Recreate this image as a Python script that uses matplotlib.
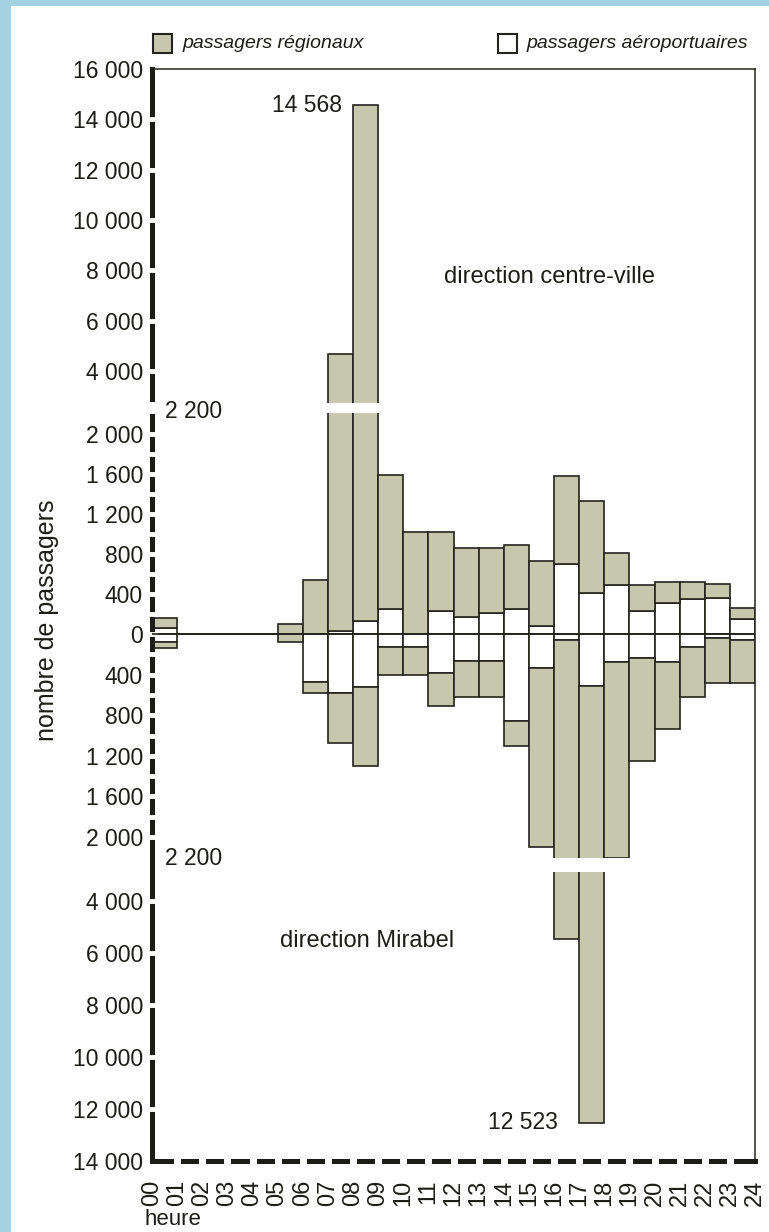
import numpy as np
import matplotlib
matplotlib.use("Agg")
import matplotlib.pyplot as plt
from matplotlib.patches import Rectangle
from matplotlib.ticker import FixedLocator, FuncFormatter, NullFormatter

plt.rcParams['font.family'] = ['Liberation Sans', 'DejaVu Sans']

# heures 00..23 (une barre par heure, de h à h+1)
hours = np.arange(24)
hour_labels = [f"{h:02d}" for h in range(25)]

# direction centre-ville (au-dessus de zéro)
ville_aero = [65, 0, 0, 0, 0, 0, 0, 35, 130, 255, 0, 230, 175, 215, 255, 80,
              705, 415, 490, 230, 315, 355, 365, 155]
ville_regio = [95, 0, 0, 0, 0, 105, 540, 4640, 14438, 1335, 1025, 795, 685, 645,
               635, 650, 875, 915, 325, 260, 205, 165, 135, 110]

# direction Mirabel (sous zéro)
mirabel_aero = [76, 0, 0, 0, 0, 0, 473, 584, 519, 125, 125, 381, 266, 266, 857,
                332, 59, 512, 273, 233, 273, 131, 36, 59]
mirabel_regio = [66, 0, 0, 0, 0, 80, 111, 493, 778, 282, 282, 328, 358, 358, 243,
                 1763, 5391, 12011, 1937, 1018, 666, 487, 444, 421]

max_ville = 14568
max_mirabel = 12523
coupure = 2200

yticks_major = [-14000, -12000, -10000, -8000, -6000, -4000, -2000, -1600, -1200,
                -800, -400, 0, 400, 800, 1200, 1600, 2000, 4000, 6000, 8000,
                10000, 12000, 14000, 16000]
yticks_minor = [-1800, -1400, -1000, -600, -200, 200, 600, 1000, 1400, 1800]

# échelle brisée : linéaire fine jusqu'à 2 200, comprimée au-delà
knots_v = [-30000, -14000, -4000, -2200, 0, 2200, 4000, 16000, 40000]
knots_d = [-943, -527, -267, -223.3, 0, 220, 263, 565, 1169]


def fwd(v):
    return np.interp(v, knots_v, knots_d)


def inv(d):
    return np.interp(d, knots_d, knots_v)


gris = '#c6c8ae'
trait = '#24241e'
encre = '#1c1c18'

fig = plt.figure(figsize=(7.69, 12.32), dpi=100, facecolor='#a3d3e3')
fig.add_artist(Rectangle((11 / 769, 0), 1, 1 - 6 / 1232, transform=fig.transFigure,
                         facecolor='white', edgecolor='none', zorder=-5))

ax = fig.add_axes([152 / 769, 1 - 1161 / 1232, 603 / 769, 1092 / 1232])
ax.set_yscale('function', functions=(fwd, inv))

kw = dict(width=1, align='edge', edgecolor=trait, linewidth=1.2)
va = np.array(ville_aero)
vr = np.array(ville_regio)
ma = np.array(mirabel_aero)
mr = np.array(mirabel_regio)
ax.bar(hours, va, color='white', **kw)
ax.bar(hours, vr, bottom=va, color=gris, **kw)
ax.bar(hours, -ma, color='white', **kw)
ax.bar(hours, -mr, bottom=-ma, color=gris, **kw)

ax.axhline(0, color=trait, lw=1.2, zorder=3)

# coupures de l'échelle
ax.axhspan(2245, 2680, xmin=0, xmax=0.995, color='white', lw=0, zorder=2.2)
ax.axhspan(-2790, -2245, xmin=0.006, xmax=0.995, color='white', lw=0, zorder=2.2)

ax.set_xlim(0, 24)
ax.set_ylim(-14000, 16000)

ax.xaxis.set_major_locator(FixedLocator(range(25)))
ax.set_xticklabels(hour_labels, rotation=90, fontsize=17, color=encre)
ax.yaxis.set_major_locator(FixedLocator(yticks_major))
ax.yaxis.set_minor_locator(FixedLocator(yticks_minor))
ax.yaxis.set_minor_formatter(NullFormatter())
ax.yaxis.set_major_formatter(FuncFormatter(lambda v, p: f"{abs(int(round(v))):,}".replace(",", " ")))
ax.tick_params(axis='y', labelsize=16.5, labelcolor=encre)

# les graduations sont des coupures blanches dans l'axe épais
ax.tick_params(axis='both', which='both', color='white', direction='inout')
ax.tick_params(axis='y', which='both', length=9, width=3.5, pad=2)
ax.tick_params(axis='x', length=9, width=5, pad=9)

for s in ['top', 'right']:
    ax.spines[s].set_linewidth(1.1)
    ax.spines[s].set_color(trait)
for s in ['left', 'bottom']:
    ax.spines[s].set_linewidth(3.6)
    ax.spines[s].set_color(encre)
ax.xaxis.set_zorder(2.6)
ax.yaxis.set_zorder(2.6)

xt = ax.xaxis.get_major_ticks()
xt[0].tick1line.set_visible(False)
xt[-1].tick1line.set_visible(False)
yt = ax.yaxis.get_major_ticks()
yt[0].tick1line.set_visible(False)
yt[-1].tick1line.set_visible(False)

# coupure de l'axe en haut
ax.plot([0, 0], [2220, 2700], transform=ax.get_yaxis_transform(), color='white',
        lw=6, zorder=2.7, clip_on=False, solid_capstyle='butt')

ax.text(0.5, 2300, f"{coupure:,}".replace(",", " "), fontsize=16.5, color=encre, ha='left', va='center')
ax.text(0.5, -2250, f"{coupure:,}".replace(",", " "), fontsize=16.5, color=encre, ha='left', va='center')
ax.text(7.55, max_ville, f"{max_ville:,}".replace(",", " "), fontsize=16.5, color=encre,
        ha='right', va='center')
ax.text(16.15, -max_mirabel, f"{max_mirabel:,}".replace(",", " "), fontsize=16.5, color=encre,
        ha='right', va='center')
ax.text(0.66, 0.8095, "direction centre-ville", transform=ax.transAxes, fontsize=17,
        color=encre, ha='center', va='center')
ax.text(0.3566, 0.2015, "direction Mirabel", transform=ax.transAxes, fontsize=17,
        color=encre, ha='center', va='center')

fig.text(47 / 769, 1 - 620 / 1232, "nombre de passagers", rotation=90, fontsize=18,
         color=encre, ha='center', va='center')
fig.text(145 / 769, 1 - 1230 / 1232, "heure", fontsize=16, color=encre, ha='left', va='bottom')

# légende
fig.add_artist(Rectangle((153 / 769, 1 - 53 / 1232), 19 / 769, 19 / 1232, transform=fig.transFigure,
                         facecolor=gris, edgecolor=trait, lw=1.5))
fig.text(182 / 769, 1 - 43 / 1232, "passagers régionaux", fontsize=14, style='italic',
         color=encre, ha='left', va='center')
fig.add_artist(Rectangle((498 / 769, 1 - 53 / 1232), 19 / 769, 19 / 1232, transform=fig.transFigure,
                         facecolor='white', edgecolor=trait, lw=1.5))
fig.text(526 / 769, 1 - 43 / 1232, "passagers aéroportuaires", fontsize=14, style='italic',
         color=encre, ha='left', va='center')

fig.savefig("out.png", dpi=100)
